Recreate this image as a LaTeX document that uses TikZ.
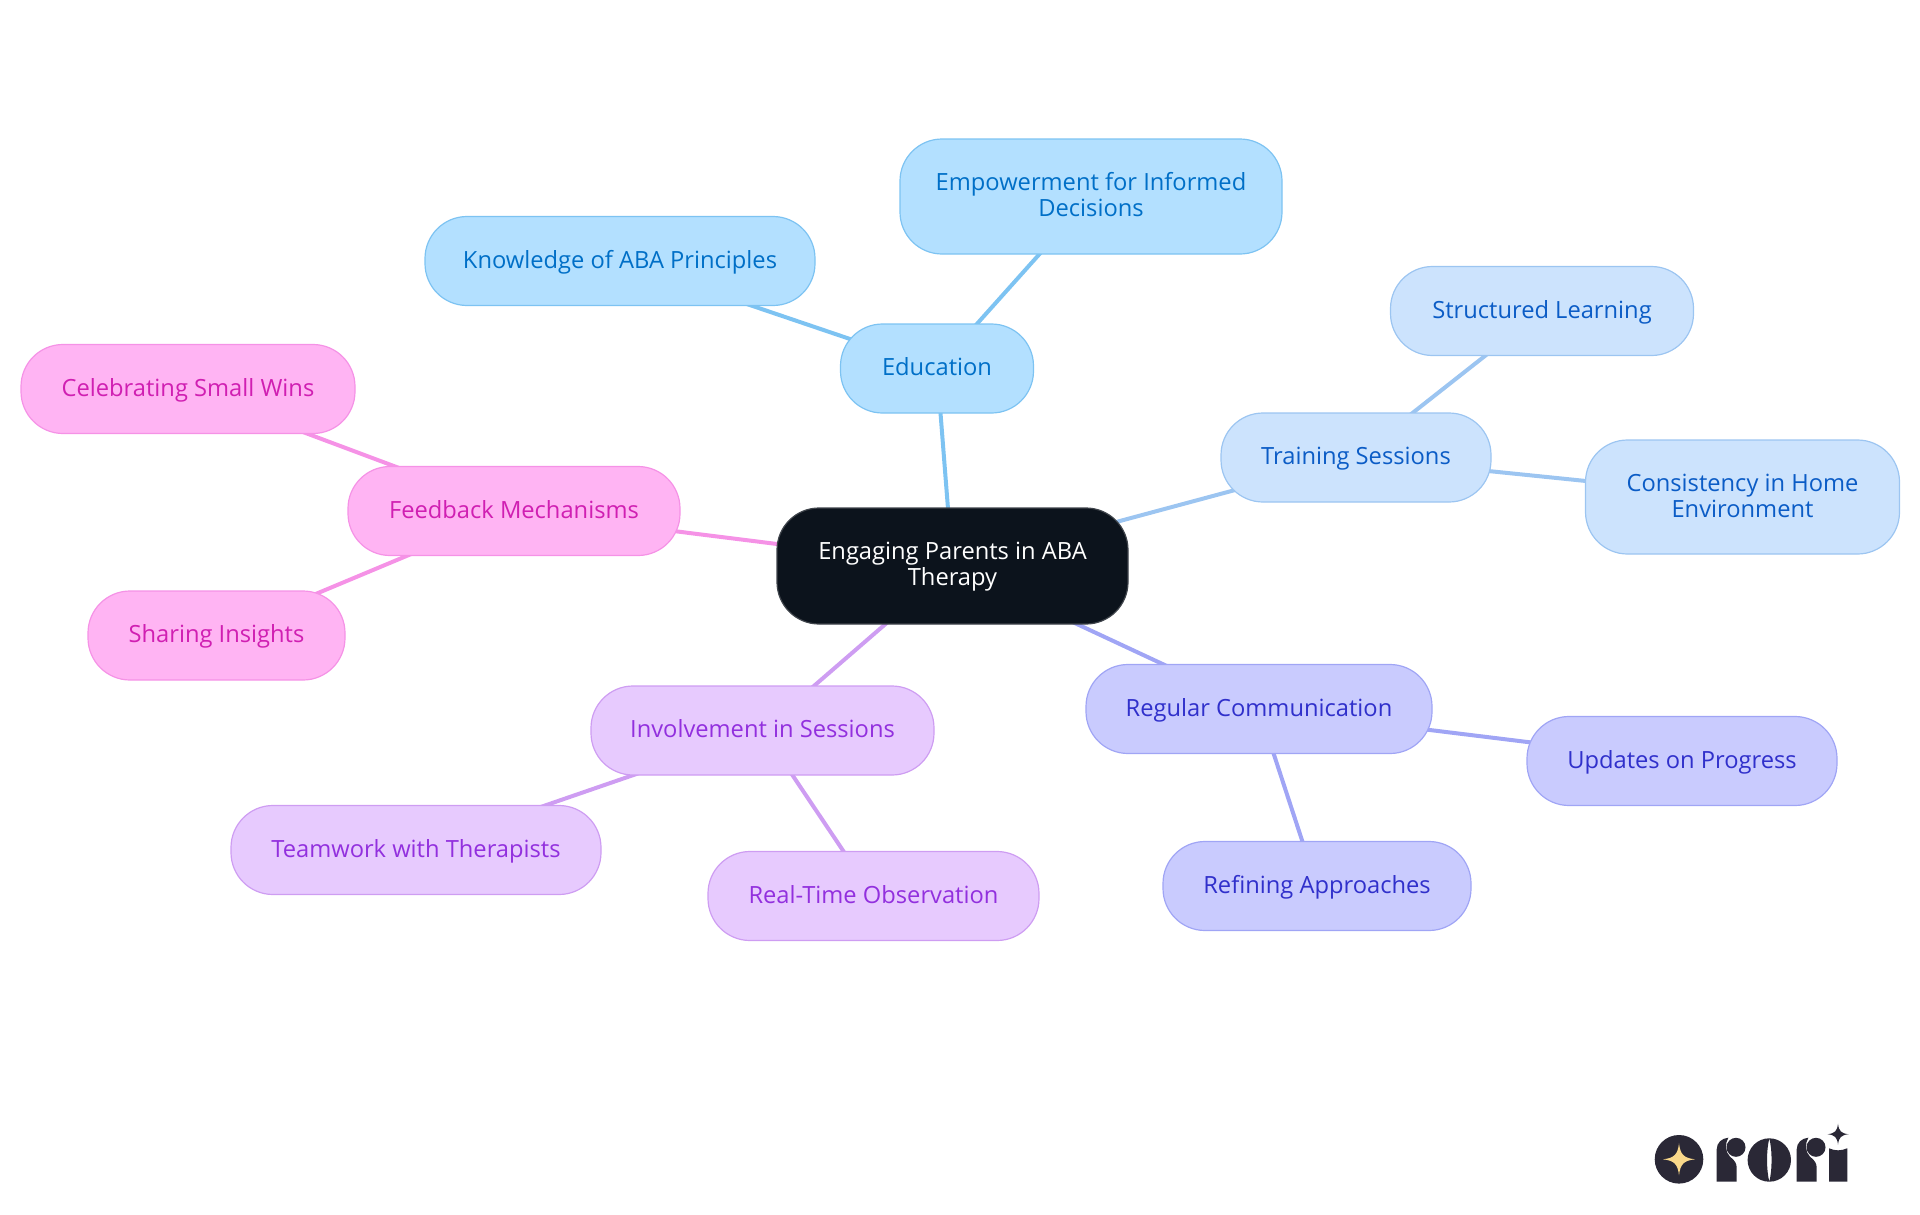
\documentclass[tikz,border=0pt]{standalone}
\usepackage{fontspec}
\setmainfont{Open Sans}
\usepackage{xcolor}
\usetikzlibrary{backgrounds}
\definecolor{rootfill}{HTML}{0C131C}
\definecolor{rootline}{HTML}{3F444B}
\definecolor{eduFill}{HTML}{B3E0FF}
\definecolor{eduLine}{HTML}{7DC3F2}
\definecolor{eduText}{HTML}{006FC7}
\definecolor{trainFill}{HTML}{CCE3FD}
\definecolor{trainLine}{HTML}{9CC5F1}
\definecolor{trainText}{HTML}{0B5CC6}
\definecolor{commFill}{HTML}{C9CBFE}
\definecolor{commLine}{HTML}{A0A5F5}
\definecolor{commText}{HTML}{3030CB}
\definecolor{involFill}{HTML}{E7CAFE}
\definecolor{involLine}{HTML}{CE9DF2}
\definecolor{involText}{HTML}{9230DE}
\definecolor{feedFill}{HTML}{FFB4F3}
\definecolor{feedLine}{HTML}{F592E6}
\definecolor{feedText}{HTML}{D01FB2}
\definecolor{logoDark}{HTML}{2A2836}
\definecolor{logoStar}{HTML}{F9D88A}
\tikzset{
  main node/.style={rectangle,draw,line width=1.2pt,rounded corners=42pt,align=center,
    inner sep=0pt,minimum height=89pt,text height=19.2pt,text depth=5.2pt,
    font=\fontsize{23.7}{26}\selectfont},
  two lines/.style={text height=45.4pt,text depth=5pt},
  root node/.style={main node,two lines,fill=rootfill,draw=rootline,text=white,text height=44pt,minimum height=116pt},
  edu node/.style={main node,fill=eduFill,draw=eduLine,text=eduText},
  train node/.style={main node,fill=trainFill,draw=trainLine,text=trainText},
  comm node/.style={main node,fill=commFill,draw=commLine,text=commText},
  invol node/.style={main node,fill=involFill,draw=involLine,text=involText},
  feed node/.style={main node,fill=feedFill,draw=feedLine,text=feedText},
  link/.style={line width=4pt},
  logo star/.pic={\fill[pic actions] (0,-1) .. controls (.08,-.3) and (.3,-.08) .. (1,0)
      .. controls (.3,.08) and (.08,.3) .. (0,1)
      .. controls (-.08,.3) and (-.3,.08) .. (-1,0)
      .. controls (-.3,-.08) and (-.08,-.3) .. (0,-1) -- cycle;},
  logo r/.pic={\fill[logoDark] (1716.7,1181.7) -- (1716.7,1149.3)
      .. controls (1716.7,1142.7) and (1721.7,1138.3) .. (1728.3,1137.7)
      .. controls (1725,1143.3) and (1725,1151.7) .. (1730,1156.7)
      .. controls (1735,1160.7) and (1736.7,1163.3) .. (1736.7,1168.3)
      -- (1736.7,1181.7) -- cycle;
    \fill[logoDark] (1736,1147.3) circle (9.5);}
}
\begin{document}
\begin{tikzpicture}[x=1pt,y=-1pt]
\useasboundingbox (0,0) rectangle (1920,1215);
%Nodes
    \node[root node, minimum width=351pt] (Root) at (952.5,566) {Engaging Parents in ABA\\Therapy};
    \node[edu node, minimum width=193pt] (Edu) at (937,368.5) {Education};
    \node[edu node, two lines, minimum width=382pt, minimum height=115pt] (Emp) at (1091,196.5) {Empowerment for Informed\\Decisions};
    \node[edu node, minimum width=390pt] (Know) at (620,261) {Knowledge of ABA Principles};
    \node[train node, minimum width=270pt] (Train) at (1356,457.5) {Training Sessions};
    \node[train node, minimum width=303pt] (Struct) at (1542,311) {Structured Learning};
    \node[train node, two lines, minimum width=314pt, minimum height=114pt] (Home) at (1742.5,497) {Consistency in Home\\Environment};
    \node[comm node, minimum width=346pt] (Comm) at (1259,709) {Regular Communication};
    \node[comm node, minimum width=310pt] (Upd) at (1682,761) {Updates on Progress};
    \node[comm node, minimum width=308pt] (Ref) at (1317,886) {Refining Approaches};
    \node[invol node, minimum width=343pt] (Invol) at (762.5,730.5) {Involvement in Sessions};
    \node[invol node, minimum width=370pt] (Team) at (416,850) {Teamwork with Therapists};
    \node[invol node, minimum width=331pt] (Real) at (873.5,896) {Real-Time Observation};
    \node[feed node, minimum width=332pt] (Feed) at (514,511) {Feedback Mechanisms};
    \node[feed node, minimum width=334pt] (Cele) at (188,389) {Celebrating Small Wins};
    \node[feed node, minimum width=257pt] (Share) at (216.5,635.5) {Sharing Insights};

%Links
\begin{scope}[on background layer]
    \draw[link, eduLine] (Root.center) -- (Edu.center);
    \draw[link, eduLine] (Edu.center) -- (Emp.center);
    \draw[link, eduLine] (Edu.center) -- (Know.center);
    \draw[link, trainLine] (Root.center) -- (Train.center);
    \draw[link, trainLine] (Train.center) -- (Struct.center);
    \draw[link, trainLine] (Train.center) -- (Home.center);
    \draw[link, commLine] (Root.center) -- (Comm.center);
    \draw[link, commLine] (Comm.center) -- (Upd.center);
    \draw[link, commLine] (Comm.center) -- (Ref.center);
    \draw[link, involLine] (Root.center) -- (Invol.center);
    \draw[link, involLine] (Invol.center) -- (Team.center);
    \draw[link, involLine] (Invol.center) -- (Real.center);
    \draw[link, feedLine] (Root.center) -- (Feed.center);
    \draw[link, feedLine] (Feed.center) -- (Cele.center);
    \draw[link, feedLine] (Feed.center) -- (Share.center);
\end{scope}

%Logo
    \fill[logoDark] (1679,1159.3) circle (24.3);
    \pic[fill=logoStar, scale=16] at (1679,1159.3) {logo star};
    \pic at (0,0) {logo r};
    \pic at (80,0) {logo r};
    \fill[logoDark, even odd rule] (1769.3,1160) circle (21.7)
        (1769.3,1138.3) .. controls (1772.3,1150) and (1772.3,1170) .. (1769.3,1181.7)
        .. controls (1766.3,1170) and (1766.3,1150) .. (1769.3,1138.3) -- cycle;
    \fill[logoDark] (1829,1148.3) .. controls (1835,1151) and (1841,1151) .. (1847.3,1148.3)
        -- (1847.3,1181.7) -- (1829,1181.7) -- cycle;
    \pic[fill=logoDark, scale=10.5] at (1838,1134.2) {logo star};
\end{tikzpicture}
\end{document}
